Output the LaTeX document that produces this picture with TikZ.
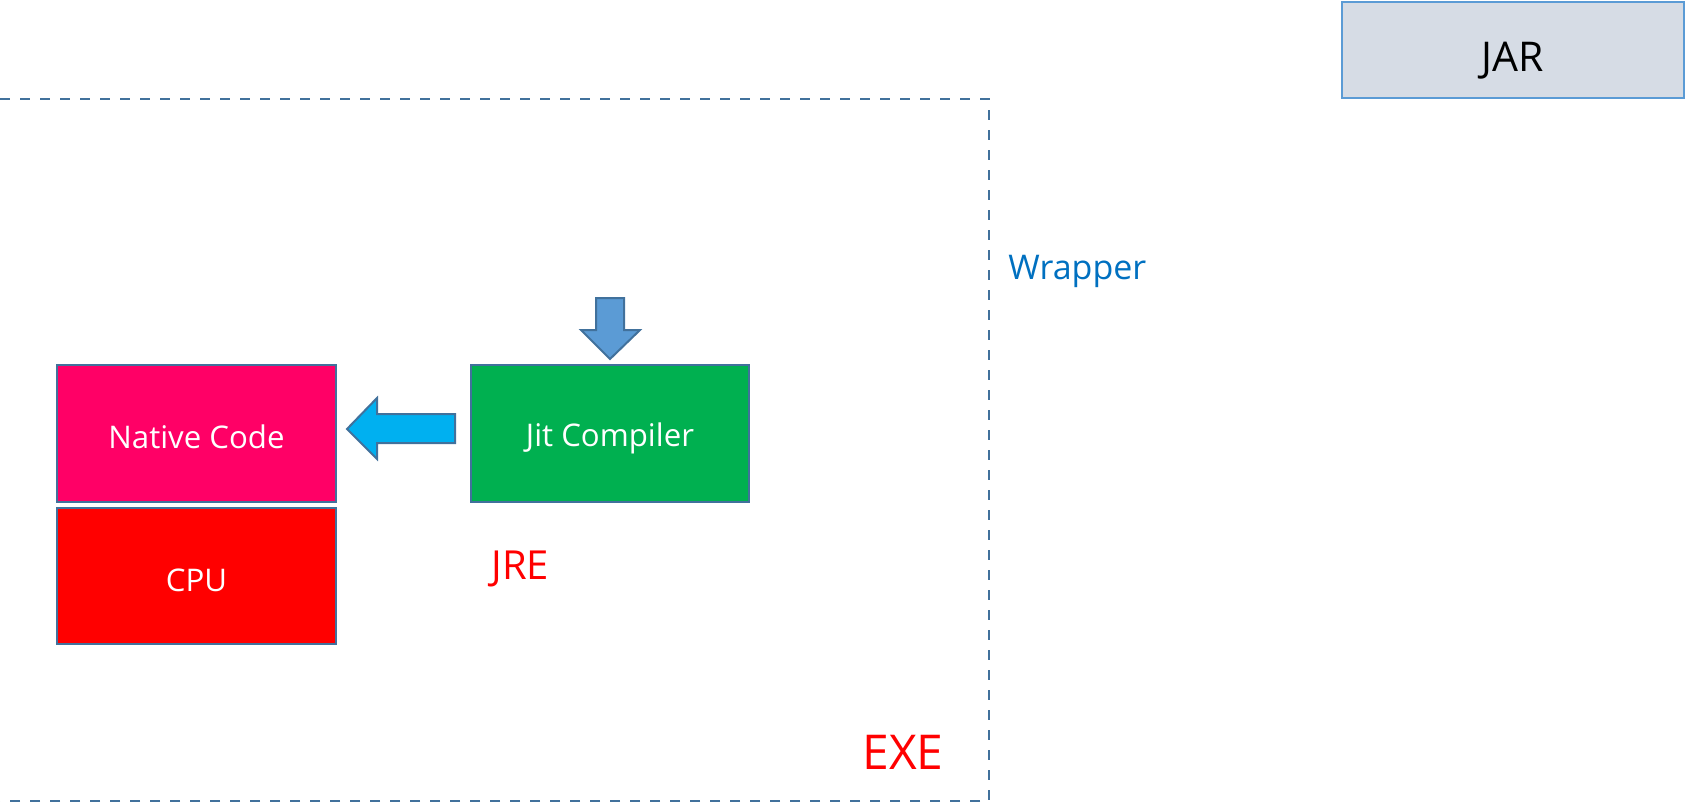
\documentclass[tikz,border=0pt]{standalone}
\usepackage{fontspec}
\setmainfont{Open Sans}
\definecolor{edgeblue}{HTML}{41719C}
\definecolor{jarfill}{HTML}{D6DCE5}
\definecolor{jaredge}{HTML}{5B9BD5}
\definecolor{nativefill}{HTML}{FF0066}
\definecolor{cpufill}{HTML}{FF0000}
\definecolor{jitfill}{HTML}{00B050}
\definecolor{leftarrow}{HTML}{00B0F0}
\definecolor{downarrow}{HTML}{5B9BD5}
\definecolor{wrapblue}{HTML}{0070C0}
\definecolor{lblred}{HTML}{FF0000}
\tikzset{
  box/.style={draw=edgeblue, line width=1.2pt, inner sep=0pt, text=white, text height=15pt, text depth=0pt, font=\fontsize{15.6}{18}\selectfont},
  bigarrow/.style={draw=edgeblue, line width=1pt, line join=miter},
  frame/.style={draw=edgeblue, line width=1pt, dash pattern=on 5pt off 5pt},
}
\begin{document}
\begin{tikzpicture}[x=0.5pt,y=-0.5pt]
\useasboundingbox (0,0) rectangle (1685,803);
% EXE dashed frame
\draw[frame] (-20,99) -- (989,99) -- (989,801) -- (-20,801);
% JAR
\node[box, fill=jarfill, draw=jaredge, text=black, text height=21pt, font=\fontsize{20.5}{24}\selectfont, minimum width=171pt, minimum height=48pt] (jar) at (1513,50) {JAR};
% Native code, CPU, Jit
\node[box, fill=nativefill, minimum width=139.5pt, minimum height=68.5pt] (native) at (196.5,433.5) {Native Code};
\node[box, fill=cpufill, minimum width=139.5pt, minimum height=68pt] (cpu) at (196.5,576) {CPU};
\node[box, fill=jitfill, text height=13pt, minimum width=139pt, minimum height=68.5pt] (jit) at (610,433.5) {Jit Compiler};
% arrows
\fill[leftarrow] (347,429) -- (377,398) -- (377,414) -- (455,414) -- (455,443) -- (377,443) -- (377,459) -- cycle;
\draw[bigarrow] (347,429) -- (377,398) -- (377,414) -- (455,414) -- (455,443) -- (377,443) -- (377,459) -- cycle;
\draw[bigarrow, fill=downarrow] (596,298) -- (624,298) -- (624,330) -- (640,330) -- (610,359) -- (581,330) -- (596,330) -- cycle;
% labels
\node[anchor=base west, inner sep=0pt, text=wrapblue, font=\fontsize{17}{20}\selectfont] (wrap) at (1008,279) {Wrapper};
\node[anchor=base west, inner sep=0pt, text=lblred, font=\fontsize{20}{23}\selectfont] (jre) at (491,579) {JRE};
\node[anchor=base west, inner sep=0pt, text=lblred, font=\fontsize{24}{28}\selectfont] (exe) at (862,769) {EXE};
\end{tikzpicture}
\end{document}
